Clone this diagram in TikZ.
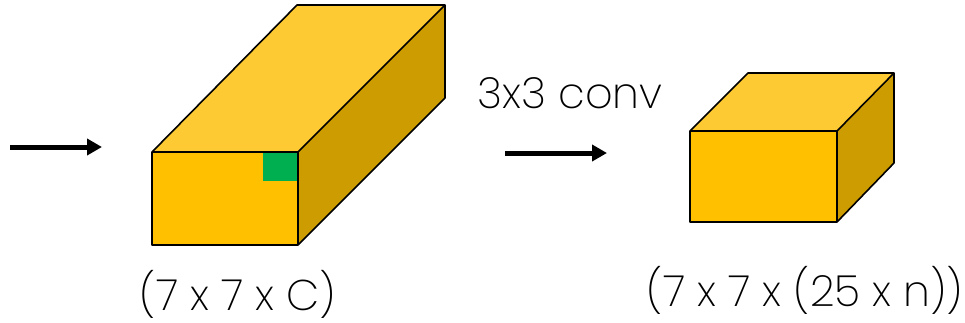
\documentclass[tikz,border=0pt]{standalone}
\usepackage{fontspec}
\setmainfont{Poppins}[UprightFont=*-ExtraLight]
\usetikzlibrary{arrows.meta}
\definecolor{frontc}{HTML}{FFC000}
\definecolor{topc}{HTML}{FDCA33}
\definecolor{sidec}{HTML}{CC9C00}
\definecolor{greenc}{HTML}{00B050}
\begin{document}
\begin{tikzpicture}[x=1pt,y=-1pt,
  edge/.style={draw=black,line width=1.6pt,line join=round},
  arr/.style={line width=5pt,-{Triangle[length=15pt,width=16pt]}},
  lbl/.style={font=\fontsize{43}{43}\selectfont,inner sep=0pt,anchor=base,text depth=8pt}]
\useasboundingbox (0,0) rectangle (965,322);
% box 1
\coordinate (a1) at (152,152);
\coordinate (b1) at (298,152);
\coordinate (c1) at (298,245);
\coordinate (d1) at (152,245);
\coordinate (e1) at (297,5);
\coordinate (f1) at (445,5);
\coordinate (g1) at (445,98);
\fill[topc] (a1) -- (e1) -- (f1) -- (b1) -- cycle;
\fill[sidec] (b1) -- (f1) -- (g1) -- (c1) -- cycle;
\fill[frontc] (a1) rectangle (c1);
\fill[greenc] (263,152) rectangle (298,181);
\draw[edge] (a1) -- (e1) -- (f1) -- (g1) -- (c1) -- (d1) -- cycle;
\draw[edge] (a1) -- (b1) -- (c1);
\draw[edge] (b1) -- (f1);
% box 2
\coordinate (a2) at (690,131);
\coordinate (b2) at (837,131);
\coordinate (c2) at (837,222);
\coordinate (d2) at (690,222);
\coordinate (e2) at (748,73);
\coordinate (f2) at (894,73);
\coordinate (g2) at (894,163);
\fill[topc] (a2) -- (e2) -- (f2) -- (b2) -- cycle;
\fill[sidec] (b2) -- (f2) -- (g2) -- (c2) -- cycle;
\fill[frontc] (a2) rectangle (c2);
\draw[edge] (a2) -- (e2) -- (f2) -- (g2) -- (c2) -- (d2) -- cycle;
\draw[edge] (a2) -- (b2) -- (c2);
\draw[edge] (b2) -- (f2);
% arrows
\coordinate (s1) at (10,147);
\coordinate (t1) at (102,147);
\coordinate (s2) at (505,153);
\coordinate (t2) at (607,153);
\draw[arr] (s1) -- (t1);
\draw[arr] (s2) -- (t2);
% labels
\node[lbl] (conv) at (570,108) {3x3 conv};
\node[lbl] (l1) at (238,310) {(7 x 7 x C)};
\node[lbl] (l2) at (805,306) {(7 x 7 x (25 x n))};
\end{tikzpicture}
\end{document}
